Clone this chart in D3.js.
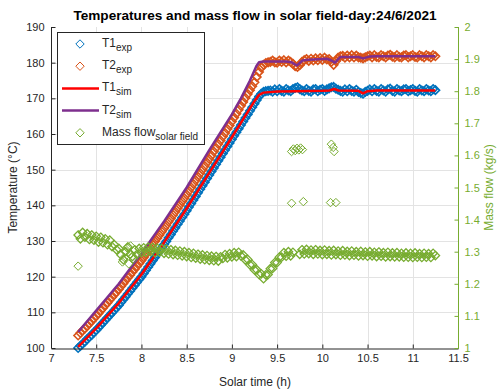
<!DOCTYPE html>
<html><head><meta charset="utf-8">
<script src="https://cdn.jsdelivr.net/npm/d3@7"></script>
<style>
body{margin:0;background:#fff}
svg{display:block;font-family:"Liberation Sans",Arial,Helvetica,sans-serif}
</style>
</head><body><svg id="chart" width="500" height="392"></svg>
<script>
// Logged samples: one reading every 0.025 h (90 s) starting at 7.30 h solar time
const sampleStart = 7.30, sampleStep = 0.025;

// Measured field inlet temperature T1 (°C)
const t1Exp = [
  100.0,100.6,101.2,101.8,102.5,103.1,103.7,104.4,105.0,105.7,
  106.4,107.1,107.8,108.5,109.2,109.9,110.6,111.3,112.0,112.8,
  113.6,114.4,115.2,116.0,116.8,117.6,118.4,119.2,120.0,120.9,
  121.8,122.7,123.6,124.5,125.4,126.3,127.2,128.1,129.0,129.9,
  130.9,131.8,132.8,133.7,134.7,135.6,136.6,137.5,138.5,139.5,
  140.5,141.5,142.5,143.5,144.5,145.5,146.5,147.5,148.5,149.5,
  150.5,151.5,152.5,153.5,154.5,155.5,156.5,157.5,158.5,159.5,
  160.5,161.5,162.5,163.5,164.5,165.5,166.5,167.5,168.5,169.5,
  170.5,171.3,171.8,172.0,172.1,
  172.2,171.9,172.5,172.0,172.6,172.1,171.9,172.6,172.2,172.0,
  172.6,172.9,173.1,172.6,172.2,172.0,172.6,172.1,171.9,172.5,
  172.6,172.0,172.4,172.6,172.1,172.5,172.8,173.1,173.2,172.7,
  172.4,172.1,171.9,172.5,172.0,172.6,172.1,171.9,172.4,171.8,
  171.5,171.3,171.8,172.1,172.5,172.0,172.6,172.1,171.9,172.6,
  172.2,171.9,172.5,172.7,172.1,171.9,172.6,172.2,172.0,172.5,
  172.6,172.0,172.3,172.6,172.1,171.9,172.6,172.2,172.0,172.6,
  172.2,172.0,172.6,172.3
];

// Measured field outlet temperature T2 (°C)
const t2Exp = [
  103.5,104.2,104.9,105.5,106.2,106.9,107.6,108.3,109.0,109.7,
  110.5,111.2,112.0,112.7,113.5,114.2,115.0,115.7,116.5,117.3,
  118.1,118.9,119.7,120.5,121.3,122.1,122.9,123.7,124.5,125.4,
  126.3,127.2,128.1,129.0,129.9,130.8,131.7,132.6,133.5,134.4,
  135.4,136.3,137.3,138.2,139.2,140.1,141.1,142.0,143.0,144.0,
  145.0,146.0,147.0,148.0,149.0,150.0,151.0,152.0,153.0,154.0,
  155.1,156.1,157.2,158.2,159.3,160.3,161.4,162.4,163.5,164.6,
  165.7,166.8,167.9,169.0,170.1,171.2,172.3,173.4,174.5,176.0,
  177.4,178.6,179.4,179.9,180.1,
  180.2,180.6,180.1,180.0,180.6,180.2,180.7,180.1,180.6,180.2,
  179.7,179.0,178.8,179.3,180.2,180.7,181.0,180.5,181.1,180.6,
  181.2,180.7,181.3,180.8,181.4,180.9,181.0,180.2,179.4,180.4,
  181.4,181.8,181.9,181.4,182.0,181.5,182.1,181.5,182.0,181.5,
  181.4,181.2,181.5,181.8,182.0,181.5,182.1,181.6,181.5,182.1,
  181.8,181.5,182.0,182.2,181.7,181.5,182.1,181.6,181.5,182.0,
  182.1,181.5,181.8,182.1,181.6,181.5,182.1,181.8,181.5,182.1,
  181.8,181.5,182.1,181.8
];

// Measured mass flow through the solar field (kg/s); null = logging gap
const massFlow = [
  1.352,1.340,1.360,1.345,1.356,1.338,1.352,1.336,1.348,1.330,
  1.345,1.328,1.340,1.322,1.336,1.316,1.322,1.306,1.310,1.290,
  1.275,1.300,1.315,1.292,1.285,1.306,1.292,1.310,1.297,1.312,
  1.298,1.314,1.300,1.313,1.297,1.311,1.299,1.310,1.295,1.308,
  1.293,1.306,1.291,1.304,1.289,1.302,1.287,1.300,1.285,1.297,
  1.282,1.295,1.280,1.292,1.277,1.290,1.275,1.288,1.273,1.286,
  1.272,1.285,1.271,1.284,1.279,1.291,1.281,1.294,1.284,1.297,
  1.285,1.298,1.287,1.290,1.274,1.276,1.259,1.260,1.243,1.244,
  1.229,1.231,1.216,1.228,1.229,1.247,1.248,1.266,1.266,1.283,
  1.283,1.297,1.286,1.300,1.287,1.298,
  null,null,
  1.292,1.306,1.293,1.307,1.294,1.305,1.292,1.306,1.293,1.304,
  1.291,1.305,1.292,1.303,1.290,1.304,1.291,1.302,1.289,1.303,
  1.290,1.301,1.288,1.302,1.289,1.300,1.287,1.301,1.288,1.299,
  1.286,1.300,1.287,1.298,1.285,1.299,1.286,1.297,1.284,1.298,
  1.285,1.296,1.284,1.297,1.284,1.295,1.283,1.296,1.283,1.295,
  1.282,1.296,1.283,1.294,1.282,1.295,1.283,1.294,1.282,1.295,
  1.288
];

// Isolated mass flow readings off the regular sampling grid
const massExtraTime  = [7.30, 7.79, 7.81, 7.84, 7.86, 7.88, 7.91,
                        9.66, 9.79, 10.09, 10.15,
                        9.66, 9.68, 9.70, 9.72, 9.74, 9.76, 9.78,
                        10.10, 10.12, 10.13];
const massExtraValue = [1.255, 1.268, 1.282, 1.312, 1.262, 1.318, 1.277,
                        1.451, 1.456, 1.453, 1.453,
                        1.612, 1.620, 1.615, 1.622, 1.617, 1.623, 1.618,
                        1.635, 1.625, 1.612];

// Simulated temperatures (polyline knots)
const t1SimTime  = [7.30, 7.50, 7.75, 8.00, 8.25, 8.50, 8.75, 9.00, 9.25, 9.30, 9.35, 9.50, 9.70,
                    10.00, 10.08, 10.13, 10.18, 10.40, 10.45, 10.50, 10.60, 11.25];
const t1SimValue = [100.3, 105.5, 112.6, 120.6, 129.6, 139.1, 149.1, 159.1, 169.2, 171.0, 171.6, 171.9, 172.0,
                    172.1, 172.2, 172.6, 172.2, 172.1, 171.4, 172.0, 172.2, 172.2];
const t2SimTime  = [7.30, 7.50, 7.75, 8.00, 8.25, 8.50, 8.75, 9.00, 9.10, 9.20, 9.27, 9.30, 9.35, 9.60,
                    9.66, 9.72, 9.78, 9.85, 10.05, 10.10, 10.14, 10.20, 10.40, 10.45, 10.52, 10.60, 11.25];
const t2SimValue = [104.5, 110.5, 118.0, 126.5, 135.5, 145.0, 155.5, 165.5, 170.0, 175.0, 179.0, 180.1, 180.3, 180.3,
                    180.1, 179.2, 180.6, 180.8, 181.1, 180.6, 180.0, 181.6, 181.6, 181.2, 181.7, 181.8, 181.8];

// Axis ticks
const xTicks = [7, 7.5, 8, 8.5, 9, 9.5, 10, 10.5, 11, 11.5];
const xTickLabels = ["7", "7.5", "8", "8.5", "9", "9.5", "10", "10.5", "11", "11.5"];
const yLeftTicks = [100, 110, 120, 130, 140, 150, 160, 170, 180, 190];
const yRightTicks = [1, 1.1, 1.2, 1.3, 1.4, 1.5, 1.6, 1.7, 1.8, 1.9, 2];
const yRightTickLabels = ["1", "1.1", "1.2", "1.3", "1.4", "1.5", "1.6", "1.7", "1.8", "1.9", "2"];

const C = {
  t1: "#0072BD", t2: "#D95319", t1sim: "#FF0000", t2sim: "#7E2F8E",
  mass: "#77AC30", axis: "#262626", grid: "#e3e3e3"
};

const svg = d3.select("#chart");
const L = 51, R = 458, T = 27, B = 348;
const x = d3.scaleLinear().domain([7, 11.5]).range([L, R]);
const yL = d3.scaleLinear().domain([100, 190]).range([B, T]);
const yR = d3.scaleLinear().domain([1, 2]).range([B, T]);

const timeAt = i => sampleStart + i * sampleStep;

// grid
const grid = svg.append("g");
grid.selectAll("line.v").data(xTicks.slice(1, -1)).join("line")
  .attr("x1", d => Math.round(x(d)) + 0.5).attr("x2", d => Math.round(x(d)) + 0.5)
  .attr("y1", T).attr("y2", B).attr("stroke", C.grid);
grid.selectAll("line.h").data(yLeftTicks.slice(1, -1)).join("line")
  .attr("x1", L).attr("x2", R)
  .attr("y1", d => Math.round(yL(d)) + 0.5).attr("y2", d => Math.round(yL(d)) + 0.5)
  .attr("stroke", C.grid);

// diamond marker
const dia = r => `M0,${-r}L${r},0L0,${r}L${-r},0Z`;
const markerR = 4.2;

function drawMarkers(times, values, yScale, color, sw) {
  const pts = values.map((v, i) => [times(i), v]).filter(p => p[1] != null);
  svg.append("g").selectAll("path").data(pts).join("path")
    .attr("d", dia(markerR))
    .attr("transform", p => `translate(${x(p[0])},${yScale(p[1])})`)
    .attr("fill", "none").attr("stroke", color).attr("stroke-width", sw);
}

drawMarkers(timeAt, t1Exp, yL, C.t1, 1.6);
drawMarkers(timeAt, t2Exp, yL, C.t2, 1.6);

const simLine = (times, vals, color) => {
  const line = d3.line().x(d => x(d[0])).y(d => yL(d[1]));
  svg.append("path").datum(times.map((t, i) => [t, vals[i]]))
    .attr("d", line).attr("fill", "none").attr("stroke", color)
    .attr("stroke-width", 2.5).attr("stroke-linejoin", "round");
};
simLine(t1SimTime, t1SimValue, C.t1sim);
simLine(t2SimTime, t2SimValue, C.t2sim);

drawMarkers(timeAt, massFlow, yR, C.mass, 1.3);
drawMarkers(i => massExtraTime[i], massExtraValue, yR, C.mass, 1);

// axes
const xAxis = d3.axisBottom(x).tickValues(xTicks).tickFormat((d, i) => xTickLabels[i])
  .tickSizeInner(-4).tickSizeOuter(0).tickPadding(6);
const gx = svg.append("g").attr("transform", `translate(0,${B + 0.5})`).call(xAxis);
const yAxisL = d3.axisLeft(yL).tickValues(yLeftTicks).tickFormat(d3.format("d"))
  .tickSizeInner(-4).tickSizeOuter(0).tickPadding(7);
const gyl = svg.append("g").attr("transform", `translate(${L + 0.5},0)`).call(yAxisL);
const yAxisR = d3.axisRight(yR).tickValues(yRightTicks).tickFormat((d, i) => yRightTickLabels[i])
  .tickSizeInner(-4).tickSizeOuter(0).tickPadding(6);
const gyr = svg.append("g").attr("transform", `translate(${R + 0.5},0)`).call(yAxisR);

[gx, gyl].forEach(g => {
  g.select(".domain").attr("stroke", C.axis);
  g.selectAll(".tick line").attr("stroke", C.axis);
  g.selectAll("text").attr("fill", C.axis).style("font-size", "11px").style("font-family", "inherit");
});
gyr.select(".domain").attr("stroke", C.mass);
gyr.selectAll(".tick line").attr("stroke", C.mass);
gyr.selectAll("text").attr("fill", C.mass).style("font-size", "11px").style("font-family", "inherit");
gyl.select(".domain").attr("d", `M0,${B}V${T}`);
gyr.select(".domain").attr("d", `M0,${B}V${T}`);

// labels
svg.append("text").attr("x", 255).attr("y", 20).attr("text-anchor", "middle")
  .attr("font-weight", "bold").attr("font-size", 13.6).attr("fill", "#000")
  .text("Temperatures and mass flow in solar field-day:24/6/2021");
svg.append("text").attr("x", 255).attr("y", 386).attr("text-anchor", "middle")
  .attr("font-size", 12).attr("fill", C.axis).text("Solar time (h)");
svg.append("text").attr("transform", `translate(17,${(T + B) / 2}) rotate(-90)`)
  .attr("text-anchor", "middle").attr("font-size", 12).attr("fill", C.axis)
  .text("Temperature (°C)");
svg.append("text").attr("transform", `translate(493,${(T + B) / 2}) rotate(-90)`)
  .attr("text-anchor", "middle").attr("font-size", 12).attr("fill", C.mass)
  .text("Mass flow (kg/s)");

// legend
const leg = svg.append("g");
leg.append("rect").attr("x", 57.5).attr("y", 32.5).attr("width", 147).attr("height", 112)
  .attr("fill", "#fff").attr("stroke", C.axis).attr("stroke-width", 1);
const entries = [
  { main: "T1", sub: "exp", kind: "m", color: C.t1 },
  { main: "T2", sub: "exp", kind: "m", color: C.t2 },
  { main: "T1", sub: "sim", kind: "l", color: C.t1sim },
  { main: "T2", sub: "sim", kind: "l", color: C.t2sim },
  { main: "Mass flow", sub: "solar field", kind: "m", color: C.mass }
];
entries.forEach((e, i) => {
  const cy = 44 + i * 22.2;
  if (e.kind === "m") {
    leg.append("path").attr("d", dia(markerR)).attr("transform", `translate(80,${cy})`)
      .attr("fill", "none").attr("stroke", e.color);
  } else {
    leg.append("line").attr("x1", 62).attr("x2", 99).attr("y1", cy).attr("y2", cy)
      .attr("stroke", e.color).attr("stroke-width", 2.5);
  }
  const t = leg.append("text").attr("x", 102).attr("y", cy + 3).attr("font-size", 12).attr("fill", C.axis);
  t.append("tspan").text(e.main);
  t.append("tspan").attr("dy", 4).attr("font-size", 10).text(e.sub);
});
</script>
</body></html>
